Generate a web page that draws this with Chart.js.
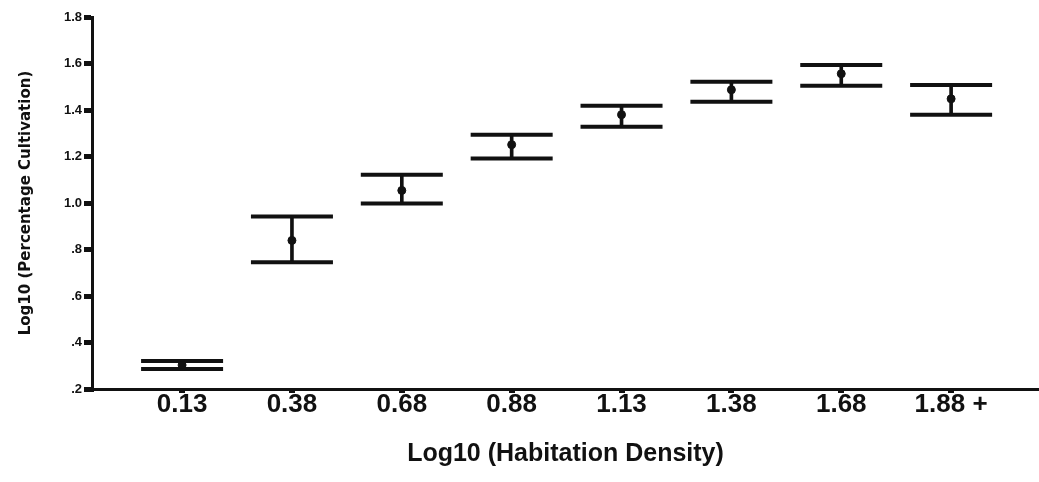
<!DOCTYPE html>
<html>
<head>
<meta charset="utf-8">
<script src="https://cdn.jsdelivr.net/npm/chart.js@4/dist/chart.umd.min.js"></script>
<style>
  html, body { margin: 0; padding: 0; background: #fff; }
  #wrap { width: 1039px; height: 482px; position: relative; }
</style>
</head>
<body>
<div id="wrap"><canvas id="c" width="1039" height="482"></canvas></div>
<script>
// ---- data ----
const categories = ["0.13", "0.38", "0.68", "0.88", "1.13", "1.38", "1.68", "1.88 +"];
const meanValues  = [0.303, 0.839, 1.054, 1.251, 1.380, 1.487, 1.556, 1.448];
const upperValues = [0.320, 0.942, 1.122, 1.294, 1.418, 1.521, 1.594, 1.508];
const lowerValues = [0.286, 0.745, 0.998, 1.191, 1.328, 1.436, 1.504, 1.380];
const yTickLabels = { "0.2": ".2", "0.4": ".4", "0.6": ".6", "0.8": ".8", "1": "1.0", "1.2": "1.2", "1.4": "1.4", "1.6": "1.6", "1.8": "1.8" };
const xTitle = "Log10 (Habitation Density)";
const yTitle = "Log10 (Percentage Cultivation)";

const INK = "#111";
const stems = categories.map((c, i) => ({ x: i, y: [lowerValues[i], upperValues[i]] }));
const caps = [];
categories.forEach((c, i) => { caps.push({ x: i, y: upperValues[i] }); caps.push({ x: i, y: lowerValues[i] }); });
const means = categories.map((c, i) => ({ x: i, y: meanValues[i] }));

new Chart(document.getElementById("c"), {
  type: "scatter",
  data: {
    datasets: [
      { type: "bar", data: stems, backgroundColor: INK, borderWidth: 0, barThickness: 3, order: 3 },
      { type: "scatter", data: caps, pointStyle: "line", pointRadius: 41, pointBorderWidth: 4,
        borderColor: INK, backgroundColor: INK, order: 2, clip: false },
      { type: "scatter", data: means, pointStyle: "circle", pointRadius: 4, pointBorderWidth: 1,
        borderColor: INK, backgroundColor: INK, order: 1, clip: false }
    ]
  },
  options: {
    responsive: false,
    animation: false,
    layout: { autoPadding: false, padding: { top: 17, right: 0, bottom: 0, left: 0 } },
    plugins: { legend: { display: false }, tooltip: { enabled: false }, title: { display: false } },
    scales: {
      x: {
        type: "linear",
        min: -0.82,
        max: 7.8,
        offset: false,
        afterBuildTicks: (s) => { s.ticks = categories.map((c, i) => ({ value: i })); },
        afterFit: (s) => { s.height = 93; },
        grid: { offset: false, drawOnChartArea: false, drawTicks: true, tickLength: 4, lineWidth: 6, color: INK, tickColor: INK },
        border: { display: true, color: INK, width: 3 },
        ticks: {
          autoSkip: false, maxRotation: 0, padding: -1, color: INK,
          font: { family: "'Liberation Sans', Arial, sans-serif", size: 26, weight: "bold", lineHeight: 1.0 },
          callback: (v) => categories[v] !== undefined ? categories[v] : ""
        },
        title: {
          display: true, text: xTitle, color: INK,
          font: { family: "'Liberation Sans', Arial, sans-serif", size: 25, weight: "bold", lineHeight: 1.2 },
          padding: { top: 0, bottom: 13 }
        }
      },
      y: {
        type: "linear",
        min: 0.2,
        max: 1.8,
        afterFit: (s) => { s.width = 92; },
        grid: { drawOnChartArea: false, drawTicks: true, tickLength: 8, lineWidth: 5, color: INK, tickColor: INK },
        border: { display: true, color: INK, width: 3 },
        ticks: {
          stepSize: 0.2, padding: 2, color: INK,
          font: { family: "'Liberation Sans', Arial, sans-serif", size: 13, weight: "bold" },
          callback: (v) => { const k = String(Math.round(v * 10) / 10); return yTickLabels[k] !== undefined ? yTickLabels[k] : ""; }
        },
        title: {
          display: true, text: yTitle, color: INK,
          font: { family: "'DejaVu Sans', sans-serif", size: 15, weight: "bold", lineHeight: 1.2 },
          padding: { top: 17, bottom: 0 }
        }
      }
    }
  }
});
</script>
</body>
</html>
